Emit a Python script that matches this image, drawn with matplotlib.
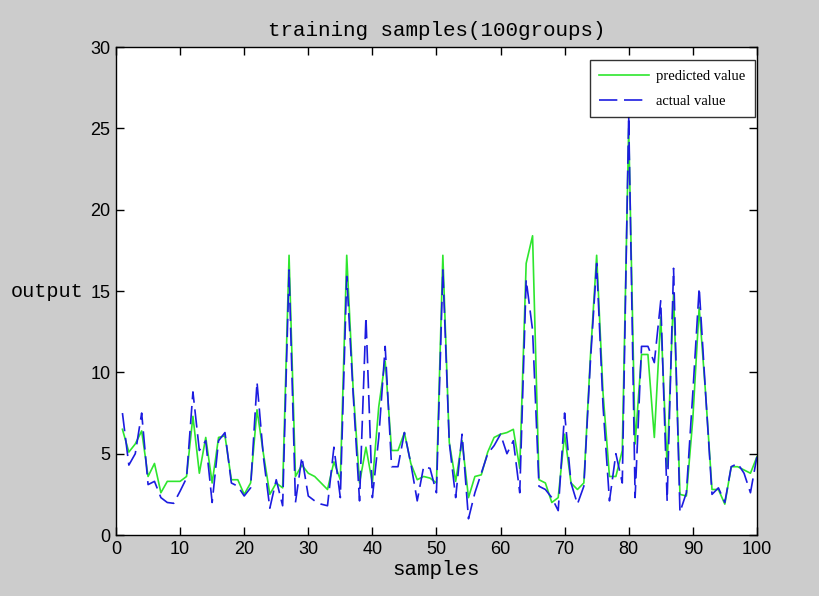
import numpy as np
import matplotlib.pyplot as plt

# sample index 1..100
samples = np.arange(1, 101)

# predicted output (green solid)
predicted = [
    6.5, 5.1, 5.6, 6.4, 3.6, 4.4, 2.6, 3.3, 3.3, 3.3,
    3.6, 7.3, 3.8, 6.0, 3.2, 6.0, 6.1, 3.4, 3.4, 2.5,
    3.2, 7.7, 5.0, 2.5, 3.2, 2.9, 17.2, 3.6, 4.3, 3.8,
    3.6, 3.2, 2.8, 4.5, 3.4, 17.2, 9.0, 3.2, 5.4, 3.2,
    7.9, 10.7, 5.2, 5.2, 6.3, 4.4, 3.4, 3.6, 3.5, 3.2,
    17.2, 5.7, 3.3, 5.8, 2.3, 3.6, 3.7, 5.1, 6.0, 6.2,
    6.3, 6.5, 4.1, 16.7, 18.4, 3.4, 3.2, 2.0, 2.3, 6.2,
    3.2, 2.8, 3.2, 10.8, 17.2, 8.7, 3.6, 3.6, 5.2, 25.0,
    5.6, 11.1, 11.1, 6.0, 13.4, 4.2, 14.9, 2.5, 2.4, 7.1,
    14.0, 8.7, 2.8, 2.8, 1.9, 4.2, 4.2, 4.0, 3.8, 4.8,
]

# actual output (blue dashed)
actual = [
    7.5, 4.3, 5.0, 7.5, 3.1, 3.3, 2.3, 2.0, 1.95, 2.7,
    3.5, 8.8, 5.2, 5.8, 2.0, 5.8, 6.3, 3.2, 3.0, 2.4,
    2.9, 9.4, 4.8, 1.65, 3.4, 1.8, 16.3, 2.0, 4.8, 2.4,
    2.1, 1.9, 1.8, 5.4, 2.3, 15.9, 8.7, 2.1, 13.4, 2.3,
    6.0, 11.6, 4.2, 4.2, 6.3, 4.4, 2.1, 4.2, 4.1, 2.6,
    16.3, 5.7, 2.3, 6.2, 1.0, 2.6, 3.8, 5.0, 5.5, 6.2,
    5.0, 5.8, 2.6, 15.7, 12.6, 3.0, 2.8, 2.3, 1.5, 7.5,
    3.2, 1.9, 3.0, 10.5, 16.7, 7.9, 2.1, 5.0, 3.2, 25.8,
    2.3, 11.6, 11.6, 10.6, 14.4, 2.1, 16.4, 1.4, 2.6, 8.7,
    15.2, 8.7, 2.5, 2.9, 2.0, 4.2, 4.4, 3.8, 2.6, 4.8,
]

fig = plt.figure(figsize=(8.2, 5.96), dpi=100, facecolor='#cccccc')
ax = fig.add_axes([0.1415, 0.1023, 0.7815, 0.8187])
ax.set_facecolor('white')

# predicted first, actual dashed on top of it
ax.plot(samples, predicted, color='#2ee62e', linewidth=1.2, label='predicted value')
ax.plot(samples, actual, color='#1c1ce0', linewidth=1.2, linestyle=(0, (11, 4)),
        label='actual value')

ax.set_xlim(0, 100)
ax.set_ylim(0, 30)
ax.set_xticks(np.arange(0, 101, 10))
ax.set_yticks(np.arange(0, 31, 5))

# MATLAB style ticks: inward on all four sides
ax.tick_params(direction='in', top=True, right=True, length=6, width=1,
               labelsize=13, pad=4)
for lab in ax.get_xticklabels() + ax.get_yticklabels():
    lab.set_family('Liberation Sans')
for sp in ax.spines.values():
    sp.set_linewidth(1)

ax.set_title('training samples(100groups)', fontsize=15,
             family='Liberation Mono', pad=8)
ax.set_xlabel('samples', fontsize=15, family='Liberation Mono', labelpad=2)
ax.set_ylabel('output', fontsize=14.5, family='Liberation Mono', rotation=0,
              ha='right', va='center')
ax.yaxis.set_label_coords(-0.051, 0.5)

leg = ax.legend(loc='upper right', bbox_to_anchor=(0.997, 0.973),
                frameon=True, fancybox=False, edgecolor='black',
                borderaxespad=0, handlelength=3.4, handletextpad=0.5,
                labelspacing=0.8, borderpad=0.65,
                prop={'family': 'Liberation Serif', 'size': 10.5})
leg.get_frame().set_linewidth(1)

fig.savefig('out.png', dpi=100, facecolor=fig.get_facecolor())
